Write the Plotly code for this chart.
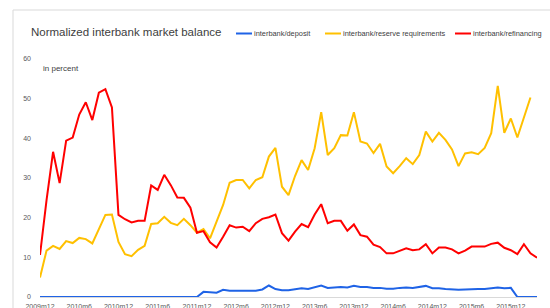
import plotly.graph_objects as go

# ---------------- data ----------------
years_months = [(2009, 12)] + [(y, m) for y in range(2010, 2017) for m in range(1, 13)]
months = [f"{y}m{m}" for (y, m) in years_months][:77]   # 2009m12 .. 2016m4

tick_labels = ["2009m12", "2010m6", "2010m12", "2011m6", "2011m12", "2012m6",
               "2012m12", "2013m6", "2013m12", "2014m6", "2014m12", "2015m6", "2015m12"]
y_ticks = [0, 10, 20, 30, 40, 50, 60]

series_names = ["interbank/deposit", "interbank/reserve requirements", "interbank/refinancing"]
series_colors = ["#1f63e6", "#ffc000", "#ff0000"]

deposit = [0] * 25 + [
    1.3, 1.2, 1.1, 1.8, 1.6, 1.6, 1.6, 1.5, 1.6, 1.9,
    2.9, 2.0, 1.7, 1.7, 2.0, 2.2, 2.0, 2.4, 2.9, 2.3,
    2.4, 2.5, 2.4, 2.8, 2.5, 2.5, 2.3, 2.3, 2.1, 2.1,
    2.3, 2.4, 2.3, 2.5, 2.8, 2.2, 2.2, 2.0, 1.9, 1.8,
    1.9, 2.0, 2.0, 2.0, 2.2, 2.4, 2.2, 2.3, 0, 0, 0, 0]

reserve = [
    4.9, 11.7, 12.9, 12.1, 14.1, 13.6, 14.9, 14.6, 13.5, 17.3,
    20.7, 20.8, 13.9, 10.8, 10.3, 11.9, 12.9, 18.4, 18.6, 20.2,
    18.7, 18.1, 19.7, 18.1, 16.2, 17.1, 14.8, 19.0, 23.2, 28.8,
    29.5, 29.5, 27.4, 29.5, 30.2, 35.4, 37.6, 27.8, 25.7, 30.5,
    34.5, 32.0, 37.5, 46.6, 35.8, 37.5, 40.8, 40.7, 46.6, 39.2,
    38.7, 36.3, 38.6, 32.9, 31.2, 33.0, 35.0, 33.5, 35.8, 41.7,
    39.2, 41.4, 39.6, 37.2, 33.0, 36.2, 36.5, 36.0, 37.6, 41.3,
    53.2, 41.4, 45.0, 40.2, 45.0, 50.3]

refinancing = [
    10.6, 24.4, 36.6, 28.7, 39.4, 40.2, 46.0, 49.1, 44.6, 51.5,
    52.4, 47.8, 20.7, 19.6, 18.8, 19.2, 19.2, 28.1, 27.0, 30.8,
    28.2, 25.1, 25.0, 22.5, 16.2, 16.6, 13.8, 12.5, 15.2, 18.1,
    17.5, 17.7, 16.6, 18.6, 19.7, 20.1, 20.8, 16.1, 14.2, 16.5,
    18.4, 17.6, 20.8, 23.4, 18.6, 19.2, 19.2, 16.7, 18.3, 15.6,
    15.2, 13.2, 12.6, 11.0, 11.0, 11.6, 12.3, 11.8, 12.0, 13.3,
    11.0, 12.5, 12.5, 12.0, 11.0, 11.7, 12.7, 12.7, 12.7, 13.4,
    13.7, 12.4, 11.8, 10.8, 13.3, 11.0, 9.9]

all_series = [deposit, reserve, refinancing]

# ---------------- layout helpers (pixel -> paper) ----------------
W_PX, H_PX = 550, 308
L, R, T, B = 40, 13, 59, 11
PW, PH = W_PX - L - R, H_PX - T - B


def px(x):
    return (x - L) / PW


def py(y):
    return (H_PX - B - y) / PH


fig = go.Figure()
for name, color, vals in zip(series_names, series_colors, all_series):
    fig.add_trace(go.Scatter(
        x=months[:len(vals)], y=vals, mode="lines", name=name,
        line=dict(color=color, width=2), showlegend=False,
        hoverinfo="x+y+name"))

shapes = [
    dict(type="rect", xref="paper", yref="paper",
         x0=px(13), x1=px(600), y0=py(10), y1=py(400),
         line=dict(color="#d9d9d9", width=1), layer="below"),
]
annotations = [
    dict(text="Normalized interbank market balance", xref="paper", yref="paper",
         x=px(29), y=py(32), xanchor="left", yanchor="middle", showarrow=False,
         font=dict(family="Liberation Sans, Arial, sans-serif", size=11.5, color="#404040")),
    dict(text="in percent", xref="paper", yref="paper",
         x=px(41), y=py(68), xanchor="left", yanchor="middle", showarrow=False,
         font=dict(family="Liberation Sans, Arial, sans-serif", size=8, color="#404040")),
]

legend_x = [236, 325, 455]
for lx, name, color in zip(legend_x, series_names, series_colors):
    shapes.append(dict(type="line", xref="paper", yref="paper",
                       x0=px(lx), x1=px(lx + 16), y0=py(33.5), y1=py(33.5),
                       line=dict(color=color, width=2)))
    annotations.append(dict(text=name, xref="paper", yref="paper",
                            x=px(lx + 16), y=py(34), xanchor="left", yanchor="middle",
                            showarrow=False,
                            font=dict(family="Liberation Sans, Arial, sans-serif",
                                      size=7.4, color="#404040")))

fig.update_layout(
    width=W_PX, height=H_PX,
    margin=dict(l=L, r=R, t=T, b=B, pad=0),
    paper_bgcolor="white", plot_bgcolor="white",
    shapes=shapes, annotations=annotations,
    font=dict(family="Liberation Sans, Arial, sans-serif", color="#595959"),
    xaxis=dict(type="category", categoryorder="array", categoryarray=months,
               range=[0, 76], tickmode="array", tickvals=tick_labels, ticktext=tick_labels,
               showgrid=False, zeroline=False, showline=True, linecolor="#d9d9d9",
               linewidth=1, ticks="", tickfont=dict(size=7, color="#595959"),
               ticklabelstandoff=3,
               tickangle=0, automargin=False, fixedrange=True),
    yaxis=dict(range=[0, 60], tickmode="array", tickvals=y_ticks,
               showgrid=False, zeroline=False, showline=False, ticks="",
               ticklabelstandoff=8,
               tickfont=dict(size=7, color="#595959"), automargin=False, fixedrange=True),
)

fig.write_html(
    "out.html",
    config={"displayModeBar": False},
    post_script="document.body.style.margin='0px';document.body.style.overflow='hidden';",
)
